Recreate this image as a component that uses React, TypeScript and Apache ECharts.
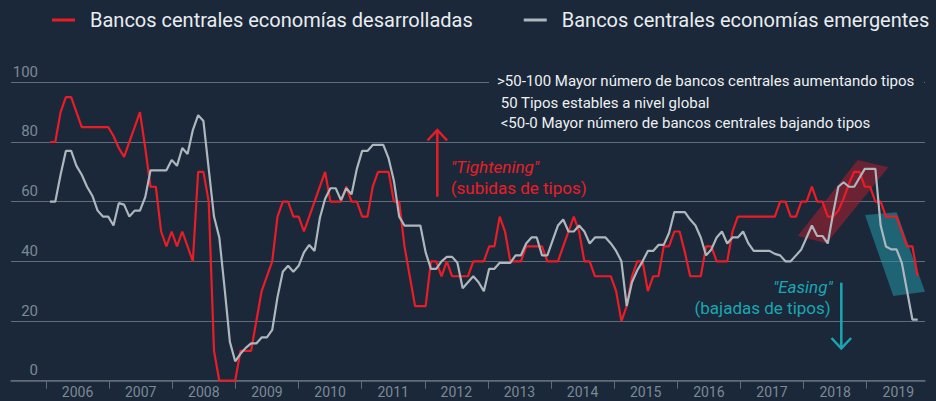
import React, { useEffect, useRef } from "react";
import * as echarts from "echarts";

const seriesNames = [
  "Bancos centrales economías desarrolladas",
  "Bancos centrales economías emergentes",
];

const yearLabels = [
  "2006", "2007", "2008", "2009", "2010", "2011", "2012",
  "2013", "2014", "2015", "2016", "2017", "2018", "2019",
];

// Monthly values, Jan 2006 onwards (index = month number)
const developed = [
  80, 80, 90, 95, 95, 90, 85, 85, 85, 85,
  85, 85, 82, 78, 75, 80, 85, 90, 78, 65,
  65, 50, 45, 50, 45, 50, 45, 40, 70, 70,
  60, 10, 0, 0, 0, 0, 10, 10, 10, 20,
  30, 35, 40, 55, 60, 60, 55, 55, 50, 55,
  60, 65, 70, 60, 60, 60, 65, 60, 60, 55,
  55, 65, 70, 70, 70, 60, 60, 45, 35, 25,
  25, 25, 40, 40, 35, 40, 35, 35, 35, 35,
  40, 40, 40, 45, 45, 55, 50, 40, 40, 40,
  45, 45, 45, 45, 40, 40, 40, 45, 50, 55,
  50, 40, 40, 35, 35, 35, 35, 30, 20, 25,
  35, 40, 40, 30, 35, 35, 45, 45, 50, 50,
  43, 35, 35, 35, 45, 45, 40, 40, 40, 50,
  55, 55, 55, 55, 55, 55, 55, 55, 60, 60,
  55, 55, 60, 60, 65, 60, 60, 55, 55, 57,
  61, 66, 70, 70, 65, 65, 60, 60, 55, 55,
  55, 50, 45, 45, 35,
];

const emerging = [
  60, 60, 69, 77, 77, 72, 69, 65, 62, 57,
  55, 55, 52, 59.5, 59, 55, 57, 57, 61.5, 70.5,
  70.5, 70.5, 70.5, 74, 72, 78, 76, 84, 89, 87,
  71, 55, 48, 31, 13, 6.5, 9, 11, 12.5, 12.5,
  14.5, 14.5, 17, 28, 36.5, 38.5, 36.5, 38.5, 43, 45.5,
  43.5, 54.5, 61, 64.5, 64.5, 60.5, 64.5, 62.5, 71, 77,
  77, 79, 79, 79, 74.5, 67, 55, 52, 52, 52,
  52, 43, 37.5, 37.5, 40, 41.5, 41.5, 39.5, 31, 33,
  35, 33, 30, 37.5, 37.5, 39.5, 39.5, 39.5, 42, 42,
  46, 48, 48, 42, 42, 47, 52, 54, 50, 50,
  52, 50, 46, 48, 48, 48, 46, 43.5, 40, 25,
  33, 37, 40, 43.5, 43.5, 45.5, 45.5, 49.5, 56.5, 56.5,
  56.5, 54, 52, 48, 42, 44, 48, 50, 46, 48,
  48, 50, 46, 43.5, 43.5, 43.5, 43.5, 42.5, 42, 40,
  40, 42, 44, 48, 52, 48.5, 48.5, 46, 56, 65,
  66.5, 65, 65, 68, 71, 71, 71, 52, 45, 44,
  44, 39.5, 30, 20.5, 20.5,
];

const annotationLines = [
  ">50-100 Mayor número de bancos centrales aumentando tipos",
  "50 Tipos estables a nivel global",
  "<50-0 Mayor número de bancos centrales bajando tipos",
];

const BG = "#1a2839";
const RED = "#ea1d27";
const GREY = "#aeb6be";
const TEAL = "#1ca6b2";
const GRID_GREY = "#606c79";
const LABEL_GREY = "#7d8995";
const FONT = "Roboto, 'Noto Sans', sans-serif";

// x axis in month units (month 0 = first data point)
const X_MIN = -7.371;
const X_MAX = 165.38;
const YEAR_TICK_START = -0.756;
const YEAR_STEP = 11.932;

export default function App() {
  const ref = useRef<HTMLDivElement>(null);

  useEffect(() => {
    if (!ref.current) return;
    const chart = echarts.init(ref.current, null, { renderer: "svg" });

    const tickValues = yearLabels.map((_, k) => YEAR_TICK_START + YEAR_STEP * k);
    const labelValues = yearLabels.map((_, k) => YEAR_TICK_START + YEAR_STEP * (k + 0.5));

    const txt = (
      text: string,
      x: number,
      y: number,
      font: string,
      fill: string,
      align: string = "left"
    ) => ({
      type: "text",
      x,
      y,
      z: 10,
      style: {
        text,
        fill,
        font,
        align,
        textAlign: align,
        verticalAlign: "middle",
        textVerticalAlign: "middle",
      },
    });

    chart.setOption({
      animation: false,
      backgroundColor: BG,
      grid: {
        left: 11,
        right: 11,
        top: 82.3,
        bottom: 20.3,
        containLabel: false,
        outerBoundsMode: "none",
      },
      legend: {
        data: seriesNames,
        left: 52,
        top: 10,
        padding: 0,
        icon: "rect",
        itemWidth: 23,
        itemHeight: 3,
        itemGap: 51,
        textStyle: {
          color: "#e9edf0",
          fontSize: 20,
          fontFamily: FONT,
          padding: [0, 0, 0, 10],
        },
      },
      xAxis: {
        type: "value",
        min: X_MIN,
        max: X_MAX,
        splitLine: { show: false },
        axisLine: { show: true, lineStyle: { color: GRID_GREY, width: 1.5 } },
        axisTick: {
          show: true,
          length: 8,
          customValues: tickValues,
          lineStyle: { color: GRID_GREY, width: 1 },
        },
        axisLabel: {
          customValues: labelValues,
          color: LABEL_GREY,
          fontSize: 14,
          lineHeight: 14,
          fontFamily: FONT,
          margin: 4,
          formatter: (v: number) =>
            yearLabels[Math.round((v - YEAR_TICK_START) / YEAR_STEP - 0.5)] ?? "",
        },
      },
      yAxis: {
        type: "value",
        min: 0,
        max: 100,
        interval: 20,
        axisLine: { show: false },
        axisTick: { show: false },
        splitLine: { show: true, lineStyle: { color: GRID_GREY, width: 1 } },
        axisLabel: {
          inside: true,
          align: "right",
          margin: 27,
          verticalAlign: "bottom",
          padding: [0, 0, 3, 0],
          color: LABEL_GREY,
          fontSize: 15,
          fontFamily: FONT,
        },
      },
      series: [
        {
          name: seriesNames[0],
          type: "line",
          data: developed.map((v, i) => [i, v]),
          showSymbol: false,
          color: RED,
          lineStyle: { color: RED, width: 2.2 },
          z: 3,
        },
        {
          name: seriesNames[1],
          type: "line",
          data: emerging.map((v, i) => [i, v]),
          showSymbol: false,
          color: GREY,
          lineStyle: { color: GREY, width: 2.2 },
          z: 3,
        },
      ],
      graphic: [
        {
          type: "rect",
          z: 1,
          shape: { x: 489, y: 70, width: 435, height: 24 },
          style: { fill: BG },
        },
        {
          type: "polygon",
          z: 1,
          shape: { points: [[797.7, 236], [857.7, 160], [888.3, 167.3], [826.7, 243.3]] },
          style: { fill: "rgba(175,30,45,0.55)" },
        },
        {
          type: "polygon",
          z: 1,
          shape: { points: [[865, 215], [896.7, 212.3], [925, 291.7], [893.3, 296]] },
          style: { fill: "rgba(35,150,165,0.55)" },
        },
        txt(annotationLines[0], 497, 81, `15px ${FONT}`, "#eef1f3"),
        txt(annotationLines[1], 500.7, 102.5, `15px ${FONT}`, "#eef1f3"),
        txt(annotationLines[2], 500.7, 123, `15px ${FONT}`, "#eef1f3"),
        txt('"Tightening"', 450.7, 166.5, `italic 17px ${FONT}`, RED),
        txt("(subidas de tipos)", 450.7, 188.3, `17px ${FONT}`, RED),
        txt('"Easing"', 832.7, 287, `italic 17px ${FONT}`, TEAL, "right"),
        txt("(bajadas de tipos)", 830.7, 308, `17px ${FONT}`, TEAL, "right"),
        {
          type: "line",
          z: 10,
          shape: { x1: 437.3, y1: 196.7, x2: 437.3, y2: 131 },
          style: { stroke: RED, lineWidth: 2.5 },
        },
        {
          type: "polyline",
          z: 10,
          shape: { points: [[427.5, 140.5], [437.3, 130], [447.1, 140.5]] },
          style: { stroke: RED, lineWidth: 2.5, fill: "none" },
        },
        {
          type: "line",
          z: 10,
          shape: { x1: 841.3, y1: 282.7, x2: 841.3, y2: 347.5 },
          style: { stroke: TEAL, lineWidth: 2.5 },
        },
        {
          type: "polyline",
          z: 10,
          shape: { points: [[831.5, 338], [841.3, 348.5], [851.1, 338]] },
          style: { stroke: TEAL, lineWidth: 2.5, fill: "none" },
        },
      ],
    });

    return () => chart.dispose();
  }, []);

  return (
    <div
      ref={ref}
      style={{
        position: "absolute",
        left: 0,
        top: 0,
        width: 936,
        height: 401,
        background: BG,
      }}
    />
  );
}
